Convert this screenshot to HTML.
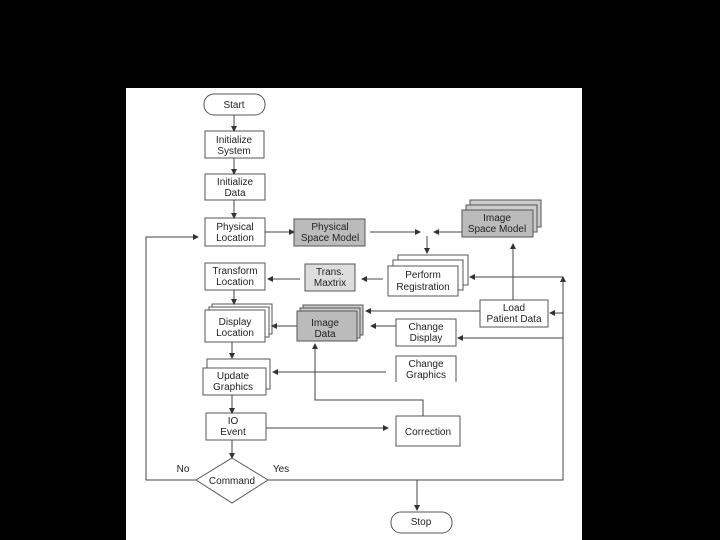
<!DOCTYPE html>
<html><head><style>body{margin:0;background:#000;}svg{display:block}text{font-family:"Liberation Sans",sans-serif;font-size:10px;fill:#222;text-anchor:middle}</style></head>
<body>
<svg width="720" height="540" viewBox="0 0 720 540">
<defs><marker id="a" markerWidth="6" markerHeight="6" refX="5" refY="3" orient="auto"><path d="M0,0L6,3L0,6z" fill="#333"/></marker></defs>
<rect x="0" y="0" width="720" height="540" fill="#000"/>
<rect x="126" y="88" width="456" height="452" fill="#fff"/>
<g stroke="#555" stroke-width="1" fill="#fff">
<rect x="204" y="94" width="61" height="21" rx="10"/>
<rect x="205" y="131" width="59" height="27"/>
<rect x="205" y="174" width="60" height="26"/>
<rect x="205" y="218" width="60" height="28"/>
<rect x="294" y="219" width="71" height="27" fill="#bbb"/>
<rect x="470" y="200" width="71" height="27" fill="#ccc"/>
<rect x="466" y="205" width="71" height="27" fill="#ccc"/>
<rect x="462" y="210" width="71" height="27" fill="#bbb"/>
<rect x="398" y="255" width="70" height="30"/>
<rect x="393" y="260" width="70" height="30"/>
<rect x="388" y="266" width="70" height="30"/>
<rect x="305" y="264" width="50" height="27" fill="#ddd"/>
<rect x="205" y="263" width="60" height="27"/>
<rect x="212" y="304" width="60" height="30"/>
<rect x="209" y="307" width="60" height="30"/>
<rect x="205" y="310" width="60" height="32"/>
<rect x="303" y="305" width="60" height="30" fill="#ccc"/>
<rect x="300" y="308" width="60" height="30" fill="#ccc"/>
<rect x="297" y="311" width="60" height="30" fill="#bbb"/>
<rect x="480" y="300" width="68" height="27"/>
<rect x="396" y="319" width="60" height="27"/>
<path d="M396,382V356H456V382"/>
<rect x="207" y="359" width="63" height="30"/>
<rect x="203" y="368" width="63" height="27"/>
<rect x="206" y="413" width="60" height="27"/>
<rect x="396" y="416" width="64" height="30"/>
<path d="M232,458L268,480L232,503L196,480z"/>
<rect x="391" y="512" width="61" height="21" rx="10"/>
</g>
<g stroke="#444" stroke-width="1" fill="none" marker-end="url(#a)">
<line x1="234" y1="115" x2="234" y2="131"/>
<line x1="234" y1="158" x2="234" y2="174"/>
<line x1="234" y1="200" x2="234" y2="218"/>
<line x1="265" y1="232" x2="294" y2="232"/>
<line x1="370" y1="232" x2="420" y2="232"/>
<line x1="462" y1="232" x2="434" y2="232"/>
<line x1="427" y1="236" x2="427" y2="253"/>
<line x1="383" y1="279" x2="362" y2="279"/>
<line x1="300" y1="279" x2="268" y2="279"/>
<line x1="234" y1="290" x2="234" y2="304"/>
<line x1="513" y1="300" x2="513" y2="244"/>
<polyline points="563,280 563,277 470,277"/>
<line x1="563" y1="313" x2="550" y2="313"/>
<line x1="480" y1="311" x2="366" y2="311"/>
<line x1="396" y1="326" x2="371" y2="326"/>
<line x1="563" y1="338" x2="458" y2="338"/>
<line x1="297" y1="326" x2="272" y2="326"/>
<line x1="232" y1="342" x2="232" y2="358"/>
<line x1="386" y1="372" x2="273" y2="372"/>
<line x1="232" y1="395" x2="232" y2="413"/>
<line x1="266" y1="428" x2="388" y2="428"/>
<line x1="232" y1="440" x2="232" y2="458"/>
<polyline points="423,416 423,400 315,400 315,344"/>
<polyline points="196,480 146,480 146,237 198,237"/>
<polyline points="268,480 563,480 563,277"/>
<line x1="417" y1="480" x2="417" y2="510"/>
</g>
<text x="234" y="108">Start</text>
<text x="234" y="143">Initialize</text><text x="234" y="154">System</text>
<text x="235" y="185">Initialize</text><text x="235" y="196">Data</text>
<text x="235" y="230">Physical</text><text x="235" y="241">Location</text>
<text x="330" y="230">Physical</text><text x="330" y="241">Space Model</text>
<text x="497" y="221">Image</text><text x="497" y="232">Space Model</text>
<text x="423" y="278">Perform</text><text x="423" y="290">Registration</text>
<text x="330" y="275">Trans.</text><text x="330" y="286">Maxtrix</text>
<text x="235" y="274">Transform</text><text x="235" y="285">Location</text>
<text x="235" y="325">Display</text><text x="235" y="336">Location</text>
<text x="325" y="326">Image</text><text x="325" y="337">Data</text>
<text x="514" y="311">Load</text><text x="514" y="322">Patient Data</text>
<text x="426" y="330">Change</text><text x="426" y="341">Display</text>
<text x="426" y="367">Change</text><text x="426" y="378">Graphics</text>
<text x="233" y="379">Update</text><text x="233" y="390">Graphics</text>
<text x="233" y="424">IO</text><text x="233" y="435">Event</text>
<text x="428" y="435">Correction</text>
<text x="232" y="484">Command</text>
<text x="183" y="472">No</text><text x="281" y="472">Yes</text>
<text x="421" y="525">Stop</text>
</svg>
</body></html>
